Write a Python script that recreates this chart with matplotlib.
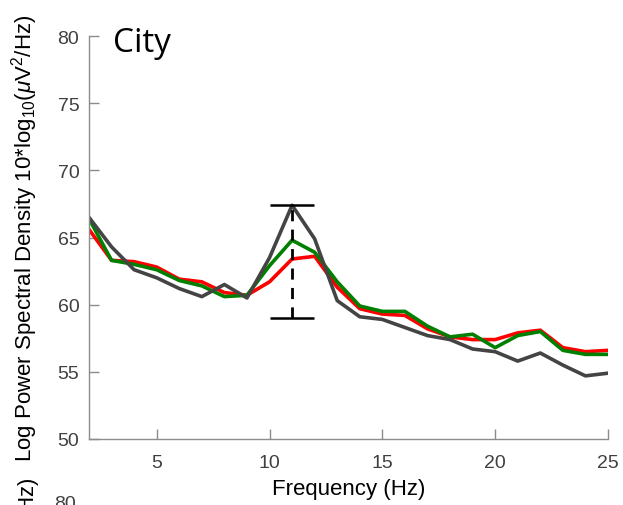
import matplotlib.pyplot as plt

plt.rcParams["font.family"] = ["Liberation Sans", "DejaVu Sans"]
plt.rcParams["mathtext.fontset"] = "custom"
plt.rcParams["mathtext.rm"] = "Liberation Sans"
plt.rcParams["mathtext.it"] = "Liberation Sans:italic"

# Частоты, Гц
freq = list(range(2, 26))

# Лог. спектральная плотность мощности, три условия
red = [65.6, 63.3, 63.2, 62.8, 61.9, 61.7, 60.9, 60.7, 61.7, 63.4, 63.6, 61.3,
       59.7, 59.3, 59.2, 58.2, 57.6, 57.4, 57.4, 57.9, 58.1, 56.8, 56.5, 56.6]
green = [66.4, 63.3, 63.0, 62.6, 61.8, 61.4, 60.6, 60.7, 62.9, 64.8, 63.9, 61.7,
         59.9, 59.5, 59.5, 58.4, 57.6, 57.8, 56.8, 57.7, 58.0, 56.6, 56.3, 56.3]
gray = [66.5, 64.3, 62.6, 62.0, 61.2, 60.6, 61.5, 60.5, 63.5, 67.4, 64.9, 60.3,
        59.1, 58.9, 58.3, 57.7, 57.4, 56.7, 56.5, 55.8, 56.4, 55.5, 54.7, 54.9]

# Разброс на пике альфа-ритма
err_x = 11
err_lo = 59.0
err_hi = 67.4

xticks = [5, 10, 15, 20, 25]
yticks = [50, 55, 60, 65, 70, 75, 80]

tick_col = "#404040"
spine_col = "#8c8c8c"

fig = plt.figure(figsize=(6.23, 5.06), dpi=100)
ax = fig.add_axes([89 / 623, 1 - 440 / 506, (608 - 89) / 623, (440 - 37) / 506])

ax.plot(freq, red, color="#ff0000", lw=2.6)
ax.plot(freq, green, color="#008000", lw=2.6)
ax.plot(freq, gray, color="#444444", lw=2.6)

mid = (err_lo + err_hi) / 2
eb = ax.errorbar([err_x], [mid], yerr=[[mid - err_lo], [err_hi - mid]], fmt="none",
                 ecolor="black", elinewidth=2, capsize=16, capthick=1.8)
eb[2][0].set_linestyle((0, (4, 3)))

ax.set_xlim(2, 25)
ax.set_ylim(50, 80)
ax.set_xticks(xticks)
ax.set_yticks(yticks)
ax.tick_params(direction="in", length=7, width=1, color=spine_col,
               labelcolor=tick_col, labelsize=14)
ax.tick_params(axis="x", pad=11)
ax.tick_params(axis="y", pad=7)
for s in ["top", "right"]:
    ax.spines[s].set_visible(False)
for s in ["left", "bottom"]:
    ax.spines[s].set_color(spine_col)
    ax.spines[s].set_linewidth(1)

ax.set_xlabel("Frequency (Hz)", fontsize=16, labelpad=5)
ax.yaxis.set_label_coords(-0.094, 0.49)
ax.set_ylabel(r"Log Power Spectral Density 10*log$_{10}$($\mu$V$^2$/Hz)", fontsize=16)

fig.text(113 / 623, 1 - 52 / 506, "City", fontsize=24, family="Open Sans", va="baseline")

# обрывки нижней панели
fig.text(28 / 623, 1 - 477 / 506, r"10*log$_{10}$($\mu$V$^2$/Hz)", fontsize=16,
         rotation=90, ha="center", va="top")
fig.text(76 / 623, 1 - 496 / 506, "80", fontsize=14, color=tick_col, ha="right", va="top")

fig.savefig("out.png", dpi=100)
